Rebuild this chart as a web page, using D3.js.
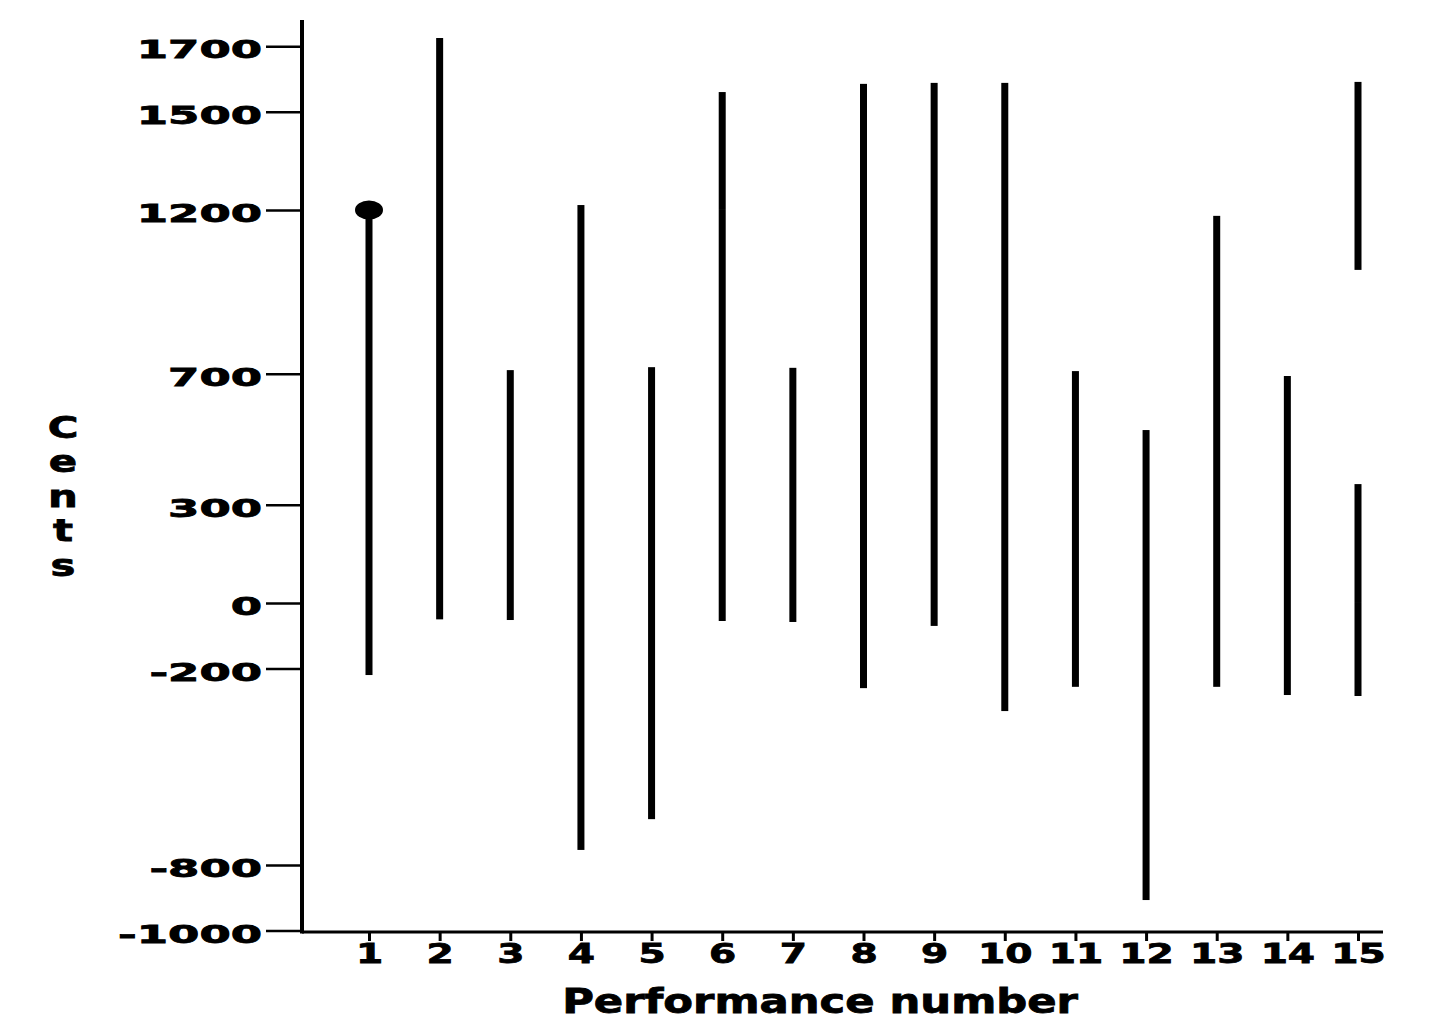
<!DOCTYPE html>
<html><head><meta charset="utf-8">
<script src="https://cdn.jsdelivr.net/npm/d3@7"></script>
<style>
html,body{margin:0;padding:0;background:#fff;}
text{font-family:"DejaVu Sans",sans-serif;font-weight:bold;fill:#000;}
</style></head>
<body>
<svg id="c" width="1442" height="1036"></svg>
<script>
// Performance number for each segment, and its low/high end in cents
const performances = [1, 2, 3, 4, 5, 6, 6, 7, 8, 9, 10, 11, 12, 13, 14, 15, 15, 15];
const lowCents  = [-220, -50, -52, -754, -660, -55, 1200, -58, -260, -70, -330, -256, -907, -256, -281, 1017, -284, 0];
const highCents = [1200, 1725, 711, 1215, 720, 1200, 1560, 718, 1585, 1588, 1588, 708, 528, 1182, 693, 1591, 0, 363];
// Marked point (dot)
const dotPerformance = [1];
const dotCents = [1200];
const yTickValues = [1700, 1500, 1200, 700, 300, 0, -200, -800, -1000];
const xTickValues = [1, 2, 3, 4, 5, 6, 7, 8, 9, 10, 11, 12, 13, 14, 15];
const xTitle = "Performance number";
const yTitle = "Cents";

const svg = d3.select("#c");
const y = d3.scaleLinear().domain([-1000, 1780]).range([930.5, 20]);
const x = d3.scaleLinear().domain([1, 15]).range([369, 1358]);
const axisX = 302, axisBottom = 932, axisRight = 1383;

// Y axis
const gy = svg.append("g").attr("transform", `translate(${axisX},0)`)
  .call(d3.axisLeft(y).tickValues(yTickValues).tickSizeInner(36).tickSizeOuter(0).tickPadding(0).tickFormat(d => String(d)));
gy.select(".domain").remove();
gy.selectAll(".tick line").attr("stroke", "#000").attr("stroke-width", 2.5);
gy.selectAll(".tick text")
  .attr("x", null).attr("dy", null)
  .attr("text-anchor", "end").attr("dominant-baseline", "central")
  .style("font-size", "25px").style("font-family", "DejaVu Sans").style("font-weight", "bold")
  .attr("stroke", "#000").attr("stroke-width", 0.8)
  .attr("transform", "translate(-40,3) scale(1.8,1)");

// X axis
const gx = svg.append("g").attr("transform", `translate(0,${axisBottom})`)
  .call(d3.axisBottom(x).tickValues(xTickValues).tickSizeInner(9).tickSizeOuter(0).tickPadding(0).tickFormat(d => String(d)));
gx.select(".domain").remove();
gx.selectAll(".tick line").attr("stroke", "#000").attr("stroke-width", 3);
gx.selectAll(".tick text")
  .attr("y", null).attr("dy", null)
  .attr("text-anchor", "middle").attr("dominant-baseline", "central")
  .style("font-size", "27px").style("font-family", "DejaVu Sans").style("font-weight", "bold")
  .attr("stroke", "#000").attr("stroke-width", 0.8)
  .attr("transform", "translate(0,22) scale(1.45,1)");

// Axis lines
svg.append("line").attr("x1", axisX).attr("x2", axisX).attr("y1", 20).attr("y2", axisBottom + 1.5)
  .attr("stroke", "#000").attr("stroke-width", 4);
svg.append("line").attr("x1", axisX).attr("x2", axisRight).attr("y1", axisBottom).attr("y2", axisBottom)
  .attr("stroke", "#000").attr("stroke-width", 3);

// Range bars
const segs = performances.map((p, i) => ({p, lo: lowCents[i], hi: highCents[i]}));
svg.append("g").selectAll("rect").data(segs).join("rect")
  .attr("x", d => x(d.p) - 3.5).attr("width", 7)
  .attr("y", d => y(d.hi)).attr("height", d => y(d.lo) - y(d.hi))
  .attr("fill", "#000");

// Dot
svg.append("g").selectAll("ellipse").data(dotPerformance.map((p, i) => ({p, v: dotCents[i]}))).join("ellipse")
  .attr("cx", d => x(d.p)).attr("cy", d => y(d.v)).attr("rx", 14).attr("ry", 9.5).attr("fill", "#000");

// X title
const xt = svg.append("text").attr("text-anchor", "middle").attr("dominant-baseline", "central")
  .style("font-size", "33px").attr("stroke", "#000").attr("stroke-width", 0.8).text(xTitle);
const xtW = xt.node().getComputedTextLength();
xt.attr("transform", `translate(820,1001) scale(${516 / xtW},1)`);

// Y title: stacked letters
const letters = yTitle.split("");
const ly = d3.scalePoint().domain(d3.range(letters.length)).range([427, 565]);
svg.append("g").selectAll("text").data(letters).join("text")
  .attr("text-anchor", "middle").attr("dominant-baseline", "central")
  .style("font-size", "31px").attr("stroke", "#000").attr("stroke-width", 0.8)
  .attr("transform", (d, i) => `translate(63,${ly(i)}) scale(1.35,1)`)
  .text(d => d);
</script>
</body></html>
